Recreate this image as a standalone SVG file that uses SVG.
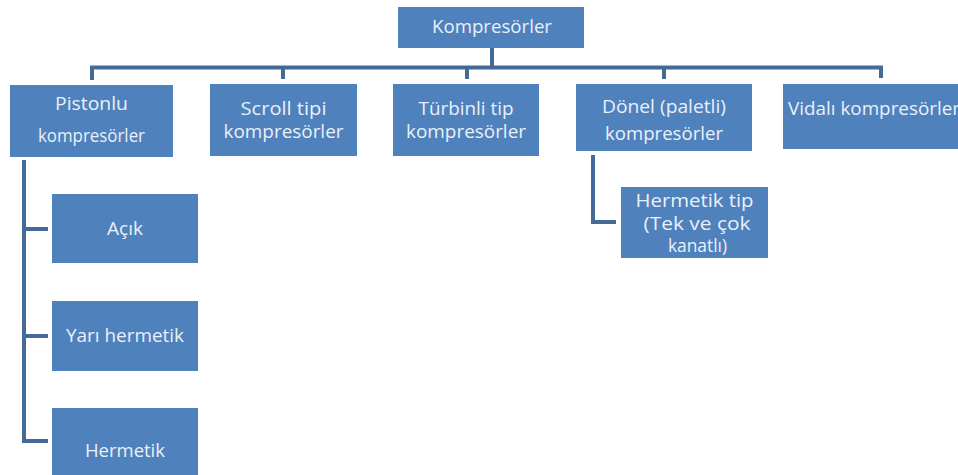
<svg xmlns="http://www.w3.org/2000/svg" width="958" height="475" viewBox="0 0 958 475">
  <style>
    .box { fill: #4F81BD; }
    .lbl { font-family: "Open Sans", Lato, "Liberation Sans", sans-serif; fill: #EAF0F7; text-anchor: middle; }
    .lbl.s { font-size: 18px; }
    .lbl.m { font-size: 19px; }
    .wire { fill: none; stroke: #466A98; stroke-width: 4; stroke-linejoin: miter; }
  </style>
  <rect width="958" height="475" fill="#FFFFFF"/>

  <!-- connectors -->
  <g id="connectors">
    <path class="wire" d="M492,48 V67.5"/>
    <path class="wire" d="M92,80 V67.5 H881 V78"/>
    <path class="wire" d="M283,67.5 V79"/>
    <path class="wire" d="M467,67.5 V79"/>
    <path class="wire" d="M664,67.5 V79"/>
    <path class="wire" d="M24,160 V441 H48"/>
    <path class="wire" d="M24,229 H48"/>
    <path class="wire" d="M24,336 H48"/>
    <path class="wire" d="M593,155 V222 H616"/>
  </g>

  <!-- root -->
  <g id="n-kompresorler">
    <rect class="box" x="398" y="7" width="186" height="41"/>
    <text class="lbl m" x="492" y="33" textLength="120" lengthAdjust="spacingAndGlyphs">Kompresörler</text>
  </g>

  <!-- first level -->
  <g id="n-pistonlu">
    <rect class="box" x="10" y="85" width="163" height="72"/>
    <text class="lbl s" x="91.5" y="110" textLength="73" lengthAdjust="spacingAndGlyphs">Pistonlu</text>
    <text class="lbl s" x="91.5" y="142" textLength="107" lengthAdjust="spacingAndGlyphs">kompresörler</text>
  </g>
  <g id="n-scroll">
    <rect class="box" x="210" y="84" width="147" height="72"/>
    <text class="lbl m" x="283.5" y="115" textLength="86" lengthAdjust="spacingAndGlyphs">Scroll  tipi</text>
    <text class="lbl m" x="283.5" y="138" textLength="120" lengthAdjust="spacingAndGlyphs">kompresörler</text>
  </g>
  <g id="n-turbinli">
    <rect class="box" x="393" y="84" width="146" height="72"/>
    <text class="lbl m" x="466" y="115" textLength="95" lengthAdjust="spacingAndGlyphs">Türbinli tip</text>
    <text class="lbl m" x="466" y="138" textLength="120" lengthAdjust="spacingAndGlyphs">kompresörler</text>
  </g>
  <g id="n-donel">
    <rect class="box" x="576" y="84" width="176" height="67"/>
    <text class="lbl m" x="664" y="113" textLength="124" lengthAdjust="spacingAndGlyphs">Dönel (paletli)</text>
    <text class="lbl m" x="664" y="140" textLength="118" lengthAdjust="spacingAndGlyphs">kompresörler</text>
  </g>
  <g id="n-vidali">
    <rect class="box" x="783" y="84" width="180" height="65"/>
    <text class="lbl m" x="874" y="115" textLength="172" lengthAdjust="spacingAndGlyphs">Vidalı kompresörler</text>
  </g>

  <!-- piston sub-types -->
  <g id="n-acik">
    <rect class="box" x="52" y="194" width="146" height="69"/>
    <text class="lbl m" x="125" y="235" textLength="36" lengthAdjust="spacingAndGlyphs">Açık</text>
  </g>
  <g id="n-yari-hermetik">
    <rect class="box" x="52" y="301" width="146" height="70"/>
    <text class="lbl m" x="125" y="342" textLength="118" lengthAdjust="spacingAndGlyphs">Yarı hermetik</text>
  </g>
  <g id="n-hermetik">
    <rect class="box" x="52" y="408" width="146" height="70"/>
    <text class="lbl m" x="125" y="457" textLength="80" lengthAdjust="spacingAndGlyphs">Hermetik</text>
  </g>

  <!-- rotary sub-type -->
  <g id="n-hermetik-tip">
    <rect class="box" x="621" y="187" width="147" height="71"/>
    <text class="lbl m" x="694.5" y="207" textLength="118" lengthAdjust="spacingAndGlyphs">Hermetik tip</text>
    <text class="lbl m" x="697" y="230" textLength="107" lengthAdjust="spacingAndGlyphs">(Tek ve çok</text>
    <text class="lbl m" x="697.5" y="252" textLength="59" lengthAdjust="spacingAndGlyphs">kanatlı)</text>
  </g>
</svg>
